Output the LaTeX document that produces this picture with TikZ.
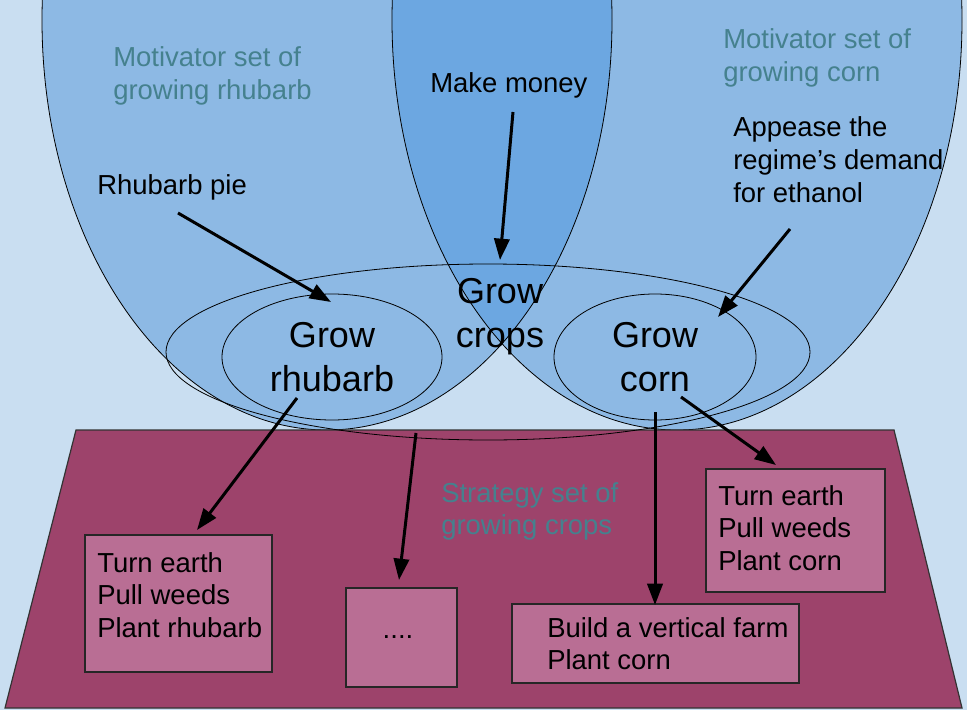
\documentclass[tikz,border=0pt]{standalone}
\usepackage{fontspec}
\setmainfont{Liberation Sans}
\usetikzlibrary{arrows.meta}
\definecolor{bg}{HTML}{C9DEF1}
\definecolor{ell}{HTML}{8DB9E4}
\definecolor{ellmid}{HTML}{6CA7E1}
\definecolor{trap}{HTML}{9D436B}
\definecolor{boxc}{HTML}{B96E94}
\definecolor{tealt}{HTML}{45818E}
\newcommand{\tabL}[1]{\begin{tabular}[t]{@{}l@{}}#1\end{tabular}}
\newcommand{\tabC}[1]{\begin{tabular}[t]{@{}c@{}}#1\end{tabular}}
\begin{document}
\begin{tikzpicture}[x=0.75pt,y=-0.75pt,
  txt/.style={font=\fontsize{20.6}{24.4}\selectfont, inner sep=0pt, anchor=base west},
  bigtxt/.style={font=\fontsize{27}{33.4}\selectfont, inner sep=0pt, anchor=base},
  note/.style={txt, text=tealt},
  arr/.style={line width=2.25pt, -{Triangle[length=16pt,width=11.5pt]}},
  boxst/.style={draw=black!85, line width=1pt, fill=boxc, inner sep=0pt, outer sep=0pt, anchor=north west},
  thinline/.style={draw=black, line width=0.6pt}]
\useasboundingbox (0,0) rectangle (967,710);
\clip (0,0) rectangle (967,710);
\fill[bg] (0,0) rectangle (967,710);
% motivator sets
\fill[ell] (327,20) ellipse [x radius=285, y radius=410];
\fill[ell] (677,20) ellipse [x radius=285, y radius=410];
\begin{scope}
  \clip (327,20) ellipse [x radius=285, y radius=410];
  \fill[ellmid] (677,20) ellipse [x radius=285, y radius=410];
\end{scope}
\draw[thinline] (327,20) ellipse [x radius=285, y radius=410];
\draw[thinline] (677,20) ellipse [x radius=285, y radius=410];
% strategy set
\draw[draw=black!80, line width=0.9pt, fill=trap] (76,430) -- (894,430) -- (962,708) -- (5,708) -- cycle;
% inner ellipses
\draw[thinline] (488,352) ellipse [x radius=322, y radius=88];
\draw[thinline] (332,357) ellipse [x radius=110, y radius=63];
\draw[thinline] (655,357) ellipse [x radius=101, y radius=63];
% texts
\node[note] (mr) at (113,67) {\tabL{Motivator set of\\growing rhubarb}};
\node[note] (mc) at (723,49) {\tabL{Motivator set of\\growing corn}};
\node[txt] (mm) at (430,93) {Make money};
\node[txt] (rp) at (97,194) {Rhubarb pie};
\node[txt] (ap) at (733,137) {\tabL{Appease the\\regime’s demand\\for ethanol}};
\node[bigtxt] (gc) at (500,303) {\tabC{Grow\\crops}};
\node[bigtxt] (gr) at (332,347) {\tabC{Grow\\rhubarb}};
\node[bigtxt] (gco) at (655,347) {\tabC{Grow\\corn}};
\node[note] (ss) at (441,502) {\tabL{Strategy set of\\growing crops}};
% boxes
\node[boxst, minimum width=140.25pt, minimum height=102.75pt] (rbox) at (85,535) {};
\node[boxst, minimum width=83.25pt, minimum height=74.25pt] (dbox) at (346,588) {};
\node[boxst, minimum width=215.25pt, minimum height=59.25pt] (bbox) at (512,604) {};
\node[boxst, minimum width=134.25pt, minimum height=92.25pt] (cbox) at (706,469) {};
\node[txt] (rt) at (97,572) {\tabL{Turn earth\\Pull weeds\\Plant rhubarb}};
\node[txt, anchor=base] (dt) at (398,638) {....};
\node[txt] (bt) at (547,637) {\tabL{Build a vertical farm\\Plant corn}};
\node[txt] (ct) at (718,505) {\tabL{Turn earth\\Pull weeds\\Plant corn}};
% arrows
\coordinate (a1s) at (178,213); \coordinate (a1e) at (331,302);
\coordinate (a2s) at (513,112); \coordinate (a2e) at (500,260);
\coordinate (a3s) at (790,229); \coordinate (a3e) at (718,317);
\coordinate (a4s) at (297,398); \coordinate (a4e) at (197,530);
\coordinate (a5s) at (416,433); \coordinate (a5e) at (399,580);
\coordinate (a6s) at (655,412); \coordinate (a6e) at (655,605);
\coordinate (a7s) at (681,397); \coordinate (a7e) at (776,465);
\draw[arr] (a1s) -- (a1e);
\draw[arr] (a2s) -- (a2e);
\draw[arr] (a3s) -- (a3e);
\draw[arr] (a4s) -- (a4e);
\draw[arr] (a5s) -- (a5e);
\draw[arr] (a6s) -- (a6e);
\draw[arr] (a7s) -- (a7e);
\end{tikzpicture}
\end{document}
